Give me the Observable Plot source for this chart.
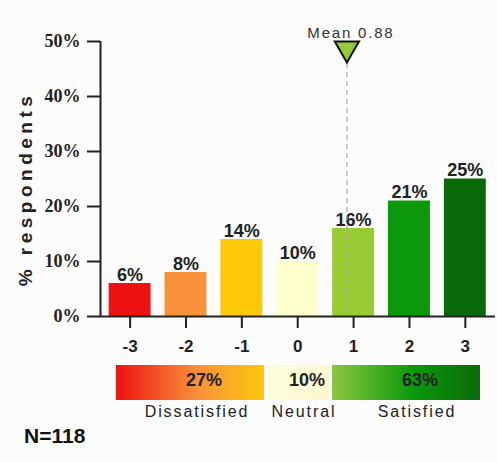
<!DOCTYPE html>
<html>
<head>
<meta charset="utf-8">
<script src="https://cdn.jsdelivr.net/npm/d3@7"></script>
<script src="https://cdn.jsdelivr.net/npm/@observablehq/plot@0.6"></script>
<style>
  body { margin: 0; background: #fcfcfc; }
  #wrap { position: relative; width: 497px; height: 462px; overflow: hidden; font-family: "Liberation Sans", Arial, sans-serif; }
  #chart { position: absolute; left: 0; top: 0; }
  .box { position: absolute; top: 365px; height: 35px; }
  .pct { position: absolute; top: 370px; font-size: 18px; font-weight: bold; color: #222; transform: translateX(-50%); white-space: nowrap; }
  .grp { position: absolute; top: 403px; font-size: 16px; letter-spacing: 1.9px; color: #222; transform: translateX(-50%); white-space: nowrap; }
  #n { position: absolute; left: 24px; top: 424px; font-size: 21px; font-weight: bold; color: #111; }
</style>
</head>
<body>
<div id="wrap">
  <div id="chart"></div>
</div>
<script>
const categories = [-3, -2, -1, 0, 1, 2, 3];
const percents = [6, 8, 14, 10, 16, 21, 25];
const barColors = ["#ee1111", "#f7923a", "#fdc80a", "#ffffcc", "#99cc33", "#0b990b", "#0a6a0a"];
const yTicks = [0, 10, 20, 30, 40, 50];
const xDomain = [-3.53, 3.54];
const meanValue = 0.88;
const groupLabels = ["Dissatisfied", "Neutral", "Satisfied"];
const groupPercents = [27, 10, 63];
const sampleSize = 118;
const yTitle = "% respondents";

const data = categories.map((c, i) => ({c, p: percents[i], color: barColors[i]}));

const chart = Plot.plot({
  width: 497,
  height: 355,
  marginLeft: 100,
  marginRight: 2,
  marginTop: 41,
  marginBottom: 39,
  style: {background: "transparent", overflow: "visible"},
  x: {domain: xDomain},
  y: {domain: [0, 50]},
  color: {type: "identity"},
  marks: [
    Plot.rectY(data, {x1: d => d.c - 0.375, x2: d => d.c + 0.375, y: "p", fill: "color"}),
    Plot.text(data, {x: "c", y: "p", text: d => d.p + "%", lineAnchor: "bottom", dy: -3,
      fontSize: 18, fontWeight: "bold", fontFamily: "Liberation Sans, Arial, sans-serif", fill: "#222"}),
    Plot.ruleX([meanValue], {x: d => d, insetTop: 22, stroke: "#aaa", strokeWidth: 1.2, strokeDasharray: "5,4"}),
    Plot.dot([meanValue], {x: d => d, frameAnchor: "top", dy: 7, symbol: "triangle", rotate: 180, r: 9,
      fill: "#93c93a", stroke: "#111", strokeWidth: 2}),
    Plot.text([meanValue], {x: d => d, text: d => "Mean " + d, frameAnchor: "top", dy: -14, dx: 4,
      fontSize: 15, fontFamily: "Liberation Sans, Arial, sans-serif", fill: "#333"}),
    Plot.axisY({ticks: yTicks, tickSize: 13, tickPadding: 7, tickFormat: d => d + "%", label: null,
      fontSize: 18, fontWeight: "bold", fontFamily: "Liberation Serif, Times New Roman, serif",
      stroke: "#222", strokeWidth: 2, fill: "#222"}),
    Plot.axisX({ticks: categories, tickSize: 12, tickPadding: 11, tickFormat: d => String(d), label: null,
      fontSize: 17, fontWeight: "bold", fontFamily: "Liberation Sans, Arial, sans-serif",
      stroke: "#222", strokeWidth: 2, fill: "#222"}),
    Plot.ruleY([0], {stroke: "#222", strokeWidth: 2}),
    Plot.ruleX([xDomain[0]], {stroke: "#222", strokeWidth: 2}),
    Plot.text([yTitle], {frameAnchor: "left", textAnchor: "middle", text: d => d, rotate: -90, dx: -75, dy: 10,
      fontSize: 19, fontWeight: "bold", fontFamily: "Liberation Sans, Arial, sans-serif", fill: "#222"})
  ]
});
document.getElementById("chart").appendChild(chart);
d3.select(chart).selectAll("text").each(function () {
  const t = this.textContent;
  if (t === yTitle) d3.select(this).style("letter-spacing", "4.5px");
  else if (t.startsWith("Mean")) d3.select(this).style("letter-spacing", "1.8px");
});

// Legend below the chart
const wrap = document.getElementById("wrap");
const boxes = [
  {left: 116, width: 148, bg: "linear-gradient(to right, #ee1111, #f7923a 55%, #fdc80a)"},
  {left: 268, width: 62, bg: "linear-gradient(to right, #fdfddc, #fbf8d0)"},
  {left: 332, width: 148, bg: "linear-gradient(to right, #8cc63f, #0b990b 55%, #0a6a0a)"}
];
const pctCenters = [204, 307, 420];
const labelCenters = [197, 304, 417];
boxes.forEach((b, i) => {
  const el = document.createElement("div");
  el.className = "box";
  el.style.left = b.left + "px";
  el.style.width = b.width + "px";
  el.style.background = b.bg;
  wrap.appendChild(el);
  const p = document.createElement("div");
  p.className = "pct";
  p.style.left = pctCenters[i] + "px";
  p.textContent = groupPercents[i] + "%";
  wrap.appendChild(p);
  const l = document.createElement("div");
  l.className = "grp";
  l.style.left = labelCenters[i] + "px";
  l.textContent = groupLabels[i];
  wrap.appendChild(l);
});
const n = document.createElement("div");
n.id = "n";
n.textContent = "N=" + sampleSize;
wrap.appendChild(n);
</script>
</body>
</html>
